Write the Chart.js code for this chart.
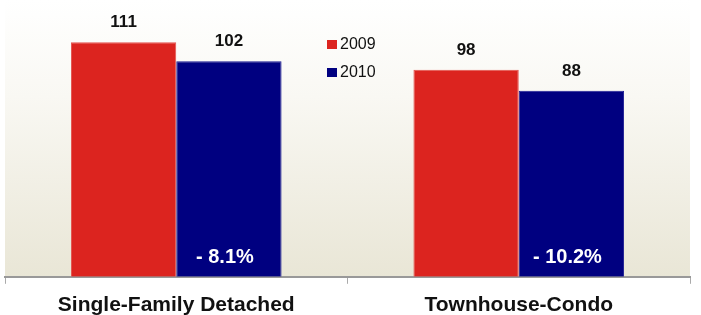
<!DOCTYPE html>
<html>
<head>
<meta charset="utf-8">
<script src="https://cdn.jsdelivr.net/npm/chart.js@4"></script>
<style>
  html, body { margin: 0; padding: 0; background: #ffffff; }
  #wrap { width: 701px; height: 315px; }
</style>
</head>
<body>
<div id="wrap"><canvas id="myChart" width="701" height="315"></canvas></div>
<script>
// Chart data
let categories = ["Single-Family Detached", "Townhouse-Condo"]
let years = ["2009", "2010"]
let values2009 = [111, 98]
let values2010 = [102, 88]
let changeLabels = ["- 8.1%", "- 10.2%"]

const FONT = "Arial, 'Liberation Sans', Helvetica, sans-serif"

// beige gradient behind the bars
const backdrop = {
    id: 'backdrop',
    beforeDraw(chart) {
        const { ctx, chartArea: a } = chart
        const g = ctx.createLinearGradient(0, a.top, 0, a.bottom)
        g.addColorStop(0, '#ffffff')
        g.addColorStop(0.35, '#f9f8f3')
        g.addColorStop(1, '#e9e6d6')
        ctx.save()
        ctx.fillStyle = g
        ctx.fillRect(a.left, a.top, a.right - a.left, a.bottom - a.top)
        ctx.restore()
    }
}

// value labels above bars, change labels inside 2010 bars, legend box
const labels = {
    id: 'labels',
    afterDatasetsDraw(chart) {
        const ctx = chart.ctx
        ctx.save()
        ctx.textAlign = 'center'
        ctx.textBaseline = 'alphabetic'
        chart.data.datasets.forEach((ds, i) => {
            chart.getDatasetMeta(i).data.forEach((bar, j) => {
                ctx.fillStyle = '#111111'
                ctx.font = "bold 17px " + FONT
                ctx.fillText(ds.data[j], bar.x, bar.y - 15)
            })
        })
        ctx.fillStyle = '#ffffff'
        ctx.font = "bold 20px " + FONT
        chart.getDatasetMeta(1).data.forEach((bar, j) => {
            ctx.fillText(changeLabels[j], bar.x - 4, 263)
        })
        // legend
        ctx.textAlign = 'left'
        ctx.textBaseline = 'middle'
        ctx.font = "16px " + FONT
        chart.data.datasets.forEach((ds, i) => {
            const y = 45 + i * 28
            ctx.fillStyle = ds.backgroundColor
            ctx.fillRect(327, y - 5, 10, 9)
            ctx.fillStyle = '#111111'
            ctx.fillText(ds.label, 340, y)
        })
        ctx.restore()
    }
}

var ctx = document.getElementById('myChart').getContext('2d')
var chart = new Chart(ctx, {
    type: 'bar',
    data: {
        labels: categories,
        datasets: [{
            label: years[0],
            backgroundColor: '#dc241f',
            borderColor: '#e4514c',
            borderWidth: 1,
            data: values2009,
        }, {
            label: years[1],
            backgroundColor: '#000080',
            borderColor: '#1c1c92',
            borderWidth: 1,
            data: values2010,
        }]
    },
    options: {
        responsive: false,
        animation: false,
        layout: { padding: { left: 5, right: 11, top: 0, bottom: -12 } },
        plugins: {
            legend: { display: false },
            tooltip: { enabled: false }
        },
        datasets: {
            bar: { barPercentage: 1, categoryPercentage: 0.615 }
        },
        scales: {
            x: {
                grid: {
                    drawOnChartArea: false,
                    color: '#aaaaaa',
                    tickLength: 7,
                    offset: true
                },
                border: { color: '#999999', width: 2 },
                ticks: {
                    color: '#111111',
                    padding: 9,
                    font: { family: FONT, size: 21, weight: 'bold' }
                }
            },
            y: {
                display: false,
                min: 0,
                max: 131
            }
        }
    },
    plugins: [backdrop, labels]
})
</script>
</body>
</html>
